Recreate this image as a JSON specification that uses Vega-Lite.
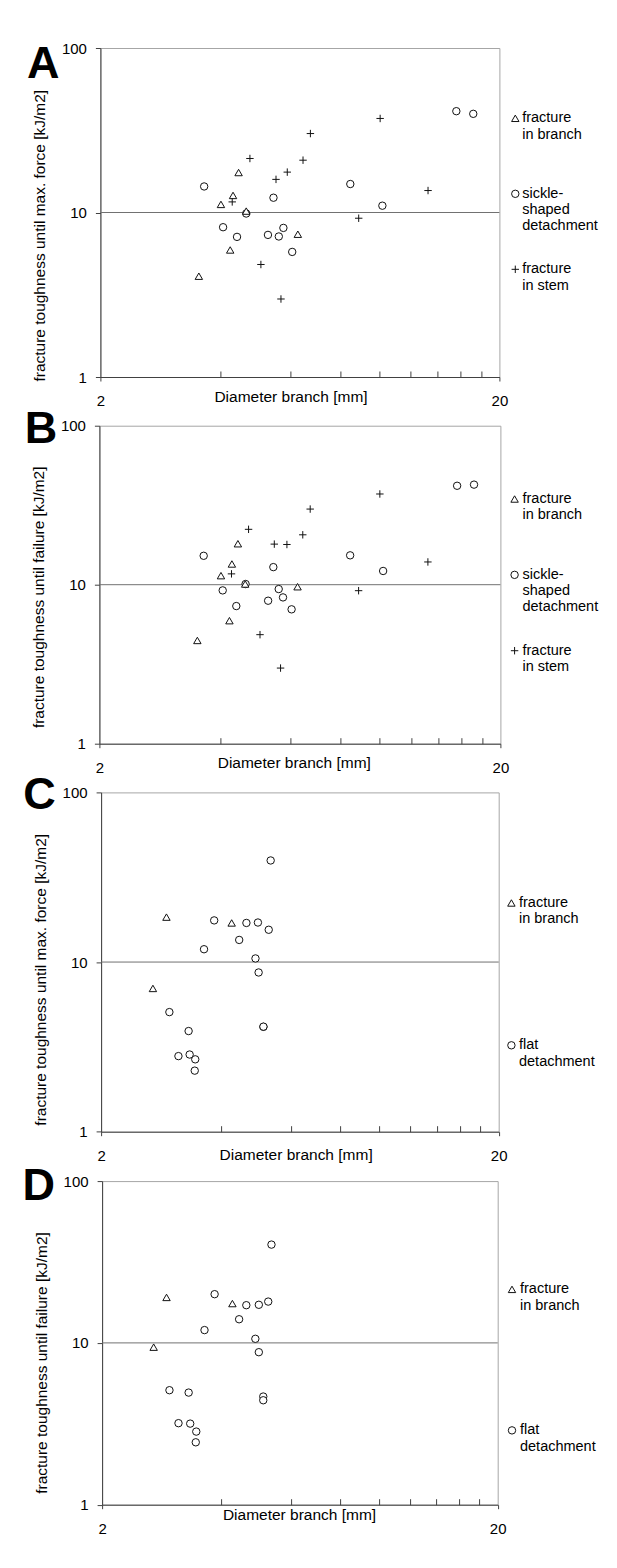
{
  "$schema": "https://vega.github.io/schema/vega-lite/v6.json",
  "background": "white",
  "padding": {"left": 21.4, "top": 40, "right": 5, "bottom": 5},
  "datasets": {
    "points": [
      {"panel": "A", "type": "sickle-shaped detachment", "diameter": 15.6, "toughness": 41.3},
      {"panel": "A", "type": "sickle-shaped detachment", "diameter": 17.2, "toughness": 39.8},
      {"panel": "A", "type": "sickle-shaped detachment", "diameter": 3.64, "toughness": 14.4},
      {"panel": "A", "type": "sickle-shaped detachment", "diameter": 8.46, "toughness": 14.9},
      {"panel": "A", "type": "sickle-shaped detachment", "diameter": 5.43, "toughness": 12.3},
      {"panel": "A", "type": "sickle-shaped detachment", "diameter": 10.18, "toughness": 11.0},
      {"panel": "A", "type": "sickle-shaped detachment", "diameter": 4.64, "toughness": 9.86},
      {"panel": "A", "type": "sickle-shaped detachment", "diameter": 4.06, "toughness": 8.14},
      {"panel": "A", "type": "sickle-shaped detachment", "diameter": 4.40, "toughness": 7.11},
      {"panel": "A", "type": "sickle-shaped detachment", "diameter": 5.26, "toughness": 7.31},
      {"panel": "A", "type": "sickle-shaped detachment", "diameter": 5.60, "toughness": 7.15},
      {"panel": "A", "type": "sickle-shaped detachment", "diameter": 5.75, "toughness": 8.06},
      {"panel": "A", "type": "sickle-shaped detachment", "diameter": 6.05, "toughness": 5.76},
      {"panel": "A", "type": "fracture in branch", "diameter": 4.44, "toughness": 17.5},
      {"panel": "A", "type": "fracture in branch", "diameter": 4.30, "toughness": 12.7},
      {"panel": "A", "type": "fracture in branch", "diameter": 4.01, "toughness": 11.2},
      {"panel": "A", "type": "fracture in branch", "diameter": 4.64, "toughness": 10.2},
      {"panel": "A", "type": "fracture in branch", "diameter": 6.25, "toughness": 7.38},
      {"panel": "A", "type": "fracture in branch", "diameter": 4.23, "toughness": 5.92},
      {"panel": "A", "type": "fracture in branch", "diameter": 3.53, "toughness": 4.10},
      {"panel": "A", "type": "fracture in stem", "diameter": 10.05, "toughness": 37.3},
      {"panel": "A", "type": "fracture in stem", "diameter": 6.72, "toughness": 30.2},
      {"panel": "A", "type": "fracture in stem", "diameter": 4.74, "toughness": 21.3},
      {"panel": "A", "type": "fracture in stem", "diameter": 6.44, "toughness": 20.8},
      {"panel": "A", "type": "fracture in stem", "diameter": 5.88, "toughness": 17.6},
      {"panel": "A", "type": "fracture in stem", "diameter": 5.51, "toughness": 15.9},
      {"panel": "A", "type": "fracture in stem", "diameter": 4.28, "toughness": 11.6},
      {"panel": "A", "type": "fracture in stem", "diameter": 13.25, "toughness": 13.6},
      {"panel": "A", "type": "fracture in stem", "diameter": 8.88, "toughness": 9.23},
      {"panel": "A", "type": "fracture in stem", "diameter": 5.05, "toughness": 4.83},
      {"panel": "A", "type": "fracture in stem", "diameter": 5.67, "toughness": 2.98},

      {"panel": "B", "type": "sickle-shaped detachment", "diameter": 15.6, "toughness": 41.9},
      {"panel": "B", "type": "sickle-shaped detachment", "diameter": 17.19, "toughness": 42.6},
      {"panel": "B", "type": "sickle-shaped detachment", "diameter": 3.64, "toughness": 15.2},
      {"panel": "B", "type": "sickle-shaped detachment", "diameter": 8.44, "toughness": 15.3},
      {"panel": "B", "type": "sickle-shaped detachment", "diameter": 5.43, "toughness": 12.9},
      {"panel": "B", "type": "sickle-shaped detachment", "diameter": 10.2, "toughness": 12.2},
      {"panel": "B", "type": "sickle-shaped detachment", "diameter": 4.63, "toughness": 10.1},
      {"panel": "B", "type": "sickle-shaped detachment", "diameter": 4.06, "toughness": 9.21},
      {"panel": "B", "type": "sickle-shaped detachment", "diameter": 4.39, "toughness": 7.34},
      {"panel": "B", "type": "sickle-shaped detachment", "diameter": 5.27, "toughness": 7.93},
      {"panel": "B", "type": "sickle-shaped detachment", "diameter": 5.60, "toughness": 9.39},
      {"panel": "B", "type": "sickle-shaped detachment", "diameter": 5.74, "toughness": 8.32},
      {"panel": "B", "type": "sickle-shaped detachment", "diameter": 6.03, "toughness": 7.00},
      {"panel": "B", "type": "fracture in branch", "diameter": 4.43, "toughness": 18.1},
      {"panel": "B", "type": "fracture in branch", "diameter": 4.28, "toughness": 13.5},
      {"panel": "B", "type": "fracture in branch", "diameter": 4.02, "toughness": 11.4},
      {"panel": "B", "type": "fracture in branch", "diameter": 4.62, "toughness": 10.1},
      {"panel": "B", "type": "fracture in branch", "diameter": 6.24, "toughness": 9.71},
      {"panel": "B", "type": "fracture in branch", "diameter": 4.22, "toughness": 5.94},
      {"panel": "B", "type": "fracture in branch", "diameter": 3.51, "toughness": 4.46},
      {"panel": "B", "type": "fracture in stem", "diameter": 10.01, "toughness": 37.2},
      {"panel": "B", "type": "fracture in stem", "diameter": 6.71, "toughness": 29.9},
      {"panel": "B", "type": "fracture in stem", "diameter": 4.71, "toughness": 22.3},
      {"panel": "B", "type": "fracture in stem", "diameter": 6.43, "toughness": 20.6},
      {"panel": "B", "type": "fracture in stem", "diameter": 5.46, "toughness": 18.0},
      {"panel": "B", "type": "fracture in stem", "diameter": 5.87, "toughness": 17.9},
      {"panel": "B", "type": "fracture in stem", "diameter": 4.27, "toughness": 11.7},
      {"panel": "B", "type": "fracture in stem", "diameter": 13.19, "toughness": 13.9},
      {"panel": "B", "type": "fracture in stem", "diameter": 8.86, "toughness": 9.17},
      {"panel": "B", "type": "fracture in stem", "diameter": 5.03, "toughness": 4.85},
      {"panel": "B", "type": "fracture in stem", "diameter": 5.66, "toughness": 2.99},

      {"panel": "C", "type": "fracture in branch", "diameter": 2.92, "toughness": 18.4},
      {"panel": "C", "type": "fracture in branch", "diameter": 4.26, "toughness": 17.0},
      {"panel": "C", "type": "fracture in branch", "diameter": 2.70, "toughness": 6.99},
      {"panel": "C", "type": "flat detachment", "diameter": 5.34, "toughness": 39.7},
      {"panel": "C", "type": "flat detachment", "diameter": 3.85, "toughness": 17.6},
      {"panel": "C", "type": "flat detachment", "diameter": 4.64, "toughness": 17.0},
      {"panel": "C", "type": "flat detachment", "diameter": 4.96, "toughness": 17.1},
      {"panel": "C", "type": "flat detachment", "diameter": 5.28, "toughness": 15.5},
      {"panel": "C", "type": "flat detachment", "diameter": 4.45, "toughness": 13.5},
      {"panel": "C", "type": "flat detachment", "diameter": 3.63, "toughness": 11.9},
      {"panel": "C", "type": "flat detachment", "diameter": 4.89, "toughness": 10.5},
      {"panel": "C", "type": "flat detachment", "diameter": 4.98, "toughness": 8.68},
      {"panel": "C", "type": "flat detachment", "diameter": 2.97, "toughness": 5.07},
      {"panel": "C", "type": "flat detachment", "diameter": 3.32, "toughness": 3.92},
      {"panel": "C", "type": "flat detachment", "diameter": 5.12, "toughness": 4.15},
      {"panel": "C", "type": "flat detachment", "diameter": 5.12, "toughness": 4.16},
      {"panel": "C", "type": "flat detachment", "diameter": 3.13, "toughness": 2.79},
      {"panel": "C", "type": "flat detachment", "diameter": 3.45, "toughness": 2.67},
      {"panel": "C", "type": "flat detachment", "diameter": 3.34, "toughness": 2.85},
      {"panel": "C", "type": "flat detachment", "diameter": 3.44, "toughness": 2.29},

      {"panel": "D", "type": "fracture in branch", "diameter": 2.91, "toughness": 19.1},
      {"panel": "D", "type": "fracture in branch", "diameter": 4.27, "toughness": 17.5},
      {"panel": "D", "type": "fracture in branch", "diameter": 2.70, "toughness": 9.41},
      {"panel": "D", "type": "flat detachment", "diameter": 5.36, "toughness": 40.5},
      {"panel": "D", "type": "flat detachment", "diameter": 3.85, "toughness": 20.0},
      {"panel": "D", "type": "flat detachment", "diameter": 4.63, "toughness": 17.1},
      {"panel": "D", "type": "flat detachment", "diameter": 4.98, "toughness": 17.2},
      {"panel": "D", "type": "flat detachment", "diameter": 5.26, "toughness": 18.0},
      {"panel": "D", "type": "flat detachment", "diameter": 4.44, "toughness": 14.0},
      {"panel": "D", "type": "flat detachment", "diameter": 3.63, "toughness": 12.0},
      {"panel": "D", "type": "flat detachment", "diameter": 4.88, "toughness": 10.6},
      {"panel": "D", "type": "flat detachment", "diameter": 4.98, "toughness": 8.76},
      {"panel": "D", "type": "flat detachment", "diameter": 2.96, "toughness": 5.10},
      {"panel": "D", "type": "flat detachment", "diameter": 3.31, "toughness": 4.93},
      {"panel": "D", "type": "flat detachment", "diameter": 5.11, "toughness": 4.66},
      {"panel": "D", "type": "flat detachment", "diameter": 5.11, "toughness": 4.42},
      {"panel": "D", "type": "flat detachment", "diameter": 3.12, "toughness": 3.19},
      {"panel": "D", "type": "flat detachment", "diameter": 3.46, "toughness": 2.83},
      {"panel": "D", "type": "flat detachment", "diameter": 3.34, "toughness": 3.17},
      {"panel": "D", "type": "flat detachment", "diameter": 3.45, "toughness": 2.43}
    ],
    "legend": [
      {"panel": "A", "type": "fracture in branch", "label": "fracture\nin branch"},
      {"panel": "A", "type": "sickle-shaped detachment", "label": "sickle-\nshaped\ndetachment"},
      {"panel": "A", "type": "fracture in stem", "label": "fracture\nin stem"},
      {"panel": "B", "type": "fracture in branch", "label": "fracture\nin branch"},
      {"panel": "B", "type": "sickle-shaped detachment", "label": "sickle-\nshaped\ndetachment"},
      {"panel": "B", "type": "fracture in stem", "label": "fracture\nin stem"},
      {"panel": "C", "type": "fracture in branch", "label": "fracture\nin branch"},
      {"panel": "C", "type": "flat detachment", "label": "flat\ndetachment"},
      {"panel": "D", "type": "fracture in branch", "label": "fracture\nin branch"},
      {"panel": "D", "type": "flat detachment", "label": "flat\ndetachment"}
    ]
  },
  "vconcat": [
    {
      "width": 399, "height": 329,
      "layer": [
        {"layer": [
          {"data": {"values": [{}]}, "mark": {"type": "rule", "color": "#707070", "strokeWidth": 1}, "encoding": {"y": {"datum": 10, "type": "quantitative"}}},
          {"data": {"values": [{}]}, "mark": {"type": "text", "text": "A", "align": "left", "baseline": "alphabetic", "fontSize": 45, "fontWeight": "bold", "dx": -73.4, "dy": 29.7, "color": "#000"},
           "encoding": {"x": {"datum": 2, "type": "quantitative"}, "y": {"datum": 100, "type": "quantitative"}}},
          {"data": {"name": "points"}, "transform": [{"filter": "datum.panel === 'A'"}],
           "mark": {"type": "point", "filled": true, "fill": "white", "stroke": "#111", "strokeWidth": 1, "size": 55, "opacity": 1},
           "encoding": {
             "x": {"field": "diameter", "type": "quantitative", "title": "Diameter branch [mm]", "scale": {"type": "log", "domain": [2, 20], "nice": false},
                   "axis": {"values": [2, 4, 6, 8, 10, 12, 14, 16, 18, 20], "labelExpr": "datum.value === 2 || datum.value === 20 ? format(datum.value, 'd') : ''", "tickSize": {"condition": {"test": "datum.value === 2 || datum.value === 20", "value": 4}, "value": -6}, "labelPadding": 12.5, "titleX": 190.1, "titleY": 24.5}},
             "y": {"field": "toughness", "type": "quantitative", "title": "fracture toughness until max. force [kJ/m2]", "scale": {"type": "log", "domain": [1, 100], "nice": false},
                   "axis": {"values": [1, 10, 100], "format": "d", "tickSize": 5, "labelPadding": 9, "titleX": -56, "titleY": 187.2}},
             "shape": {"field": "type", "type": "nominal", "legend": null, "scale": {"domain": ["fracture in branch", "sickle-shaped detachment", "fracture in stem", "flat detachment"], "range": ["triangle-up", "circle", "M-1,0H1M0,-1V1", "circle"]}}
           }}
        ]},
        {"data": {"name": "legend"}, "transform": [{"filter": "datum.panel === 'A'"}],
         "encoding": {
           "x": {"datum": 20, "type": "quantitative", "title": "Diameter branch [mm]"},
           "y": {"field": "type", "type": "nominal", "axis": null, "scale": {"type": "band", "domain": ["fracture in branch", "sickle-shaped detachment", "fracture in stem"], "paddingInner": 0.6424, "paddingOuter": 1, "align": 0.3762, "round": false}}
         },
         "layer": [
           {"mark": {"type": "point", "filled": true, "fill": "white", "stroke": "#111", "strokeWidth": 1, "size": 55, "opacity": 1, "xOffset": 15.9},
            "encoding": {"shape": {"field": "type", "type": "nominal", "legend": null, "scale": {"domain": ["fracture in branch", "sickle-shaped detachment", "fracture in stem", "flat detachment"], "range": ["triangle-up", "circle", "M-1,0H1M0,-1V1", "circle"]}}}},
           {"mark": {"type": "text", "align": "left", "baseline": "top", "dx": 22.8, "dy": -7, "lineBreak": "\n", "fontSize": 14.5, "lineHeight": 16.3, "color": "#000"},
            "encoding": {"text": {"field": "label"}}}
         ]}
      ],
      "resolve": {"scale": {"y": "independent"}}
    },
    {
      "width": 401, "height": 318,
      "layer": [
        {"layer": [
          {"data": {"values": [{}]}, "mark": {"type": "rule", "color": "#707070", "strokeWidth": 1}, "encoding": {"y": {"datum": 10, "type": "quantitative"}}},
          {"data": {"values": [{}]}, "mark": {"type": "text", "text": "B", "align": "left", "baseline": "alphabetic", "fontSize": 45, "fontWeight": "bold", "dx": -74.6, "dy": 17, "color": "#000"},
           "encoding": {"x": {"datum": 2, "type": "quantitative"}, "y": {"datum": 100, "type": "quantitative"}}},
          {"data": {"name": "points"}, "transform": [{"filter": "datum.panel === 'B'"}],
           "mark": {"type": "point", "filled": true, "fill": "white", "stroke": "#111", "strokeWidth": 1, "size": 55, "opacity": 1},
           "encoding": {
             "x": {"field": "diameter", "type": "quantitative", "title": "Diameter branch [mm]", "scale": {"type": "log", "domain": [2, 20], "nice": false},
                   "axis": {"values": [2, 4, 6, 8, 10, 12, 14, 16, 18, 20], "labelExpr": "datum.value === 2 || datum.value === 20 ? format(datum.value, 'd') : ''", "tickSize": {"condition": {"test": "datum.value === 2 || datum.value === 20", "value": 4}, "value": -6}, "labelPadding": 12.5, "titleX": 194.4, "titleY": 24.2}},
             "y": {"field": "toughness", "type": "quantitative", "title": "fracture toughness until failure [kJ/m2]", "scale": {"type": "log", "domain": [1, 100], "nice": false},
                   "axis": {"values": [1, 10, 100], "format": "d", "tickSize": 5, "labelPadding": 9, "titleX": -56, "titleY": 171.1}},
             "shape": {"field": "type", "type": "nominal", "legend": null, "scale": {"domain": ["fracture in branch", "sickle-shaped detachment", "fracture in stem", "flat detachment"], "range": ["triangle-up", "circle", "M-1,0H1M0,-1V1", "circle"]}}
           }}
        ]},
        {"data": {"name": "legend"}, "transform": [{"filter": "datum.panel === 'B'"}],
         "encoding": {
           "x": {"datum": 20, "type": "quantitative", "title": "Diameter branch [mm]"},
           "y": {"field": "type", "type": "nominal", "axis": null, "scale": {"type": "band", "domain": ["fracture in branch", "sickle-shaped detachment", "fracture in stem"], "paddingInner": 0.8075, "paddingOuter": 1, "align": 0.4351, "round": false}}
         },
         "layer": [
           {"mark": {"type": "point", "filled": true, "fill": "white", "stroke": "#111", "strokeWidth": 1, "size": 55, "opacity": 1, "xOffset": 14.2},
            "encoding": {"shape": {"field": "type", "type": "nominal", "legend": null, "scale": {"domain": ["fracture in branch", "sickle-shaped detachment", "fracture in stem", "flat detachment"], "range": ["triangle-up", "circle", "M-1,0H1M0,-1V1", "circle"]}}}},
           {"mark": {"type": "text", "align": "left", "baseline": "top", "dx": 22.1, "dy": -7, "lineBreak": "\n", "fontSize": 14.5, "lineHeight": 16.3, "color": "#000"},
            "encoding": {"text": {"field": "label"}}}
         ]}
      ],
      "resolve": {"scale": {"y": "independent"}}
    },
    {
      "width": 397.6, "height": 339.3,
      "layer": [
        {"layer": [
          {"data": {"values": [{}]}, "mark": {"type": "rule", "color": "#707070", "strokeWidth": 1}, "encoding": {"y": {"datum": 10, "type": "quantitative"}}},
          {"data": {"values": [{}]}, "mark": {"type": "text", "text": "C", "align": "left", "baseline": "alphabetic", "fontSize": 45, "fontWeight": "bold", "dx": -77.9, "dy": 17.1, "color": "#000"},
           "encoding": {"x": {"datum": 2, "type": "quantitative"}, "y": {"datum": 100, "type": "quantitative"}}},
          {"data": {"name": "points"}, "transform": [{"filter": "datum.panel === 'C'"}],
           "mark": {"type": "point", "filled": true, "fill": "white", "stroke": "#111", "strokeWidth": 1, "size": 55, "opacity": 1},
           "encoding": {
             "x": {"field": "diameter", "type": "quantitative", "title": "Diameter branch [mm]", "scale": {"type": "log", "domain": [2, 20], "nice": false},
                   "axis": {"values": [2, 4, 6, 8, 10, 12, 14, 16, 18, 20], "labelExpr": "datum.value === 2 || datum.value === 20 ? format(datum.value, 'd') : ''", "tickSize": {"condition": {"test": "datum.value === 2 || datum.value === 20", "value": 4}, "value": -6}, "labelPadding": 12.5, "titleX": 194.5, "titleY": 27.9}},
             "y": {"field": "toughness", "type": "quantitative", "title": "fracture toughness until max. force [kJ/m2]", "scale": {"type": "log", "domain": [1, 100], "nice": false},
                   "axis": {"values": [1, 10, 100], "format": "d", "tickSize": 5, "labelPadding": 9, "titleX": -56, "titleY": 186.9}},
             "shape": {"field": "type", "type": "nominal", "legend": null, "scale": {"domain": ["fracture in branch", "sickle-shaped detachment", "fracture in stem", "flat detachment"], "range": ["triangle-up", "circle", "M-1,0H1M0,-1V1", "circle"]}}
           }}
        ]},
        {"data": {"name": "legend"}, "transform": [{"filter": "datum.panel === 'C'"}],
         "encoding": {
           "x": {"datum": 20, "type": "quantitative", "title": "Diameter branch [mm]"},
           "y": {"field": "type", "type": "nominal", "axis": null, "scale": {"type": "point", "domain": ["fracture in branch", "flat detachment"], "padding": 0.692, "align": 0.5614}}
         },
         "layer": [
           {"mark": {"type": "point", "filled": true, "fill": "white", "stroke": "#111", "strokeWidth": 1, "size": 55, "opacity": 1, "xOffset": 12.7},
            "encoding": {"shape": {"field": "type", "type": "nominal", "legend": null, "scale": {"domain": ["fracture in branch", "sickle-shaped detachment", "fracture in stem", "flat detachment"], "range": ["triangle-up", "circle", "M-1,0H1M0,-1V1", "circle"]}}}},
           {"mark": {"type": "text", "align": "left", "baseline": "top", "dx": 20.3, "dy": -7, "lineBreak": "\n", "fontSize": 14.5, "lineHeight": 16.3, "color": "#000"},
            "encoding": {"text": {"field": "label"}}}
         ]}
      ],
      "resolve": {"scale": {"y": "independent"}}
    },
    {
      "width": 395.6, "height": 323.6,
      "layer": [
        {"layer": [
          {"data": {"values": [{}]}, "mark": {"type": "rule", "color": "#707070", "strokeWidth": 1}, "encoding": {"y": {"datum": 10, "type": "quantitative"}}},
          {"data": {"values": [{}]}, "mark": {"type": "text", "text": "D", "align": "left", "baseline": "alphabetic", "fontSize": 45, "fontWeight": "bold", "dx": -79.7, "dy": 18.9, "color": "#000"},
           "encoding": {"x": {"datum": 2, "type": "quantitative"}, "y": {"datum": 100, "type": "quantitative"}}},
          {"data": {"name": "points"}, "transform": [{"filter": "datum.panel === 'D'"}],
           "mark": {"type": "point", "filled": true, "fill": "white", "stroke": "#111", "strokeWidth": 1, "size": 55, "opacity": 1},
           "encoding": {
             "x": {"field": "diameter", "type": "quantitative", "title": "Diameter branch [mm]", "scale": {"type": "log", "domain": [2, 20], "nice": false},
                   "axis": {"values": [2, 4, 6, 8, 10, 12, 14, 16, 18, 20], "labelExpr": "datum.value === 2 || datum.value === 20 ? format(datum.value, 'd') : ''", "tickSize": {"condition": {"test": "datum.value === 2 || datum.value === 20", "value": 4}, "value": -6}, "labelPadding": 12.5, "titleX": 196.9, "titleY": 14.9}},
             "y": {"field": "toughness", "type": "quantitative", "title": "fracture toughness until failure [kJ/m2]", "scale": {"type": "log", "domain": [1, 100], "nice": false},
                   "axis": {"values": [1, 10, 100], "format": "d", "tickSize": 5, "labelPadding": 9, "titleX": -56, "titleY": 181.4}},
             "shape": {"field": "type", "type": "nominal", "legend": null, "scale": {"domain": ["fracture in branch", "sickle-shaped detachment", "fracture in stem", "flat detachment"], "range": ["triangle-up", "circle", "M-1,0H1M0,-1V1", "circle"]}}
           }}
        ]},
        {"data": {"name": "legend"}, "transform": [{"filter": "datum.panel === 'D'"}],
         "encoding": {
           "x": {"datum": 20, "type": "quantitative", "title": "Diameter branch [mm]"},
           "y": {"field": "type", "type": "nominal", "axis": null, "scale": {"type": "point", "domain": ["fracture in branch", "flat detachment"], "padding": 0.6475, "align": 0.593}}
         },
         "layer": [
           {"mark": {"type": "point", "filled": true, "fill": "white", "stroke": "#111", "strokeWidth": 1, "size": 55, "opacity": 1, "xOffset": 14.3},
            "encoding": {"shape": {"field": "type", "type": "nominal", "legend": null, "scale": {"domain": ["fracture in branch", "sickle-shaped detachment", "fracture in stem", "flat detachment"], "range": ["triangle-up", "circle", "M-1,0H1M0,-1V1", "circle"]}}}},
           {"mark": {"type": "text", "align": "left", "baseline": "top", "dx": 22.3, "dy": -7, "lineBreak": "\n", "fontSize": 14.5, "lineHeight": 16.3, "color": "#000"},
            "encoding": {"text": {"field": "label"}}}
         ]}
      ],
      "resolve": {"scale": {"y": "independent"}}
    }
  ],
  "spacing": 48.7,
  "bounds": "flush",
  "center": true,
  "config": {
    "font": "Liberation Sans",
    "view": {"stroke": "#a6a6a6", "strokeWidth": 1},
    "axis": {
      "grid": false,
      "domainColor": "#404040",
      "tickColor": "#404040",
      "domainWidth": 1,
      "tickWidth": 1,
      "labelColor": "#000",
      "labelFontSize": 15,
      "labelFlush": false,
      "labelOverlap": false,
      "labelBound": false,
      "titleColor": "#000",
      "titleFontSize": 15.5,
      "titleFontWeight": "normal",
      "titleAlign": "center",
      "titleBaseline": "alphabetic"
    }
  }
}
